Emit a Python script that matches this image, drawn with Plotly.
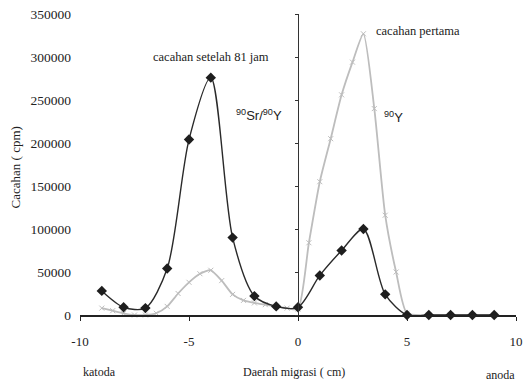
import plotly.graph_objects as go

# Dark series: cacahan setelah 81 jam (90Sr/90Y)
x_after = [-9, -8, -7, -6, -5, -4, -3, -2, -1, 0, 1, 2, 3, 4, 5, 6, 7, 8, 9]
y_after = [28000, 9000, 8000, 54000, 204000, 276000, 90000, 22000, 10000, 9000,
           46000, 75000, 100000, 24000, 0, 0, 0, 0, 0]

# Grey series: cacahan pertama (90Y)
x_first = [-9, -8.5, -8, -7.5, -7, -6.5, -6, -5.5, -5, -4.5, -4, -3.5, -3, -2.5, -2,
           -1.5, -1, -0.5, 0, 0.5, 1, 1.5, 2, 2.5, 3, 3.5, 4, 4.5, 5, 6, 7, 8, 9]
y_first = [8000, 5000, 2000, 0, 0, 2000, 10000, 25000, 38000, 48000, 52000, 40000,
           24000, 17000, 14000, 12000, 10000, 8000, 7000, 84000, 155000, 205000,
           256000, 294000, 327000, 240000, 116000, 50000, 2000, 0, 0, 0, 0]

y_ticks = [0, 50000, 100000, 150000, 200000, 250000, 300000, 350000]
y_ticktext = ["0", "50000", "100000", "150000", "200000", "250000", "300000", "350000"]
x_ticks = [-10, -5, 0, 5, 10]
x_ticktext = ["-10", "-5", "0", "5", "10"]

serif = "Liberation Serif, Times New Roman, DejaVu Serif, serif"
sans = "Liberation Sans, Arial, sans-serif"

fig = go.Figure()
fig.add_trace(go.Scatter(
    x=x_first, y=y_first, mode="lines+markers",
    line=dict(color="#bdbdbd", width=1.8, shape="spline", smoothing=0.6),
    marker=dict(symbol="x-thin-open", size=5, color="#bdbdbd", line=dict(width=1, color="#b0b0b0")),
    cliponaxis=False, showlegend=False))
fig.add_trace(go.Scatter(
    x=x_after, y=y_after, mode="lines+markers",
    line=dict(color="#2a2a2a", width=1.4, shape="spline", smoothing=0.8),
    marker=dict(symbol="diamond", size=8, color="#1e1e1e"),
    cliponaxis=False, showlegend=False))

fig.update_layout(
    width=530, height=385,
    margin=dict(l=80, r=7, t=14, b=70),
    paper_bgcolor="white", plot_bgcolor="white",
    font=dict(family=serif, color="#222", size=12),
    xaxis=dict(range=[-10, 10], tickvals=x_ticks, ticktext=x_ticktext,
               showgrid=False, zeroline=False, showline=True, linecolor="#222", linewidth=1.5,
               ticks="outside", ticklen=4, tickcolor="#222", tickfont=dict(family=serif, size=13),
               ticklabelstandoff=10),
    yaxis=dict(range=[0, 350000], tickvals=y_ticks, ticktext=y_ticktext, showgrid=False,
               zeroline=False, showline=False, ticks="", tickfont=dict(family=serif, size=13.5),
               ticklabelstandoff=8),
    yaxis2=dict(range=[0, 350000], overlaying="y", anchor="free", position=0.5, side="left",
                showticklabels=False, showgrid=False, zeroline=False, showline=True,
                linecolor="#333", linewidth=1.2, tickvals=y_ticks, ticks="outside",
                ticklen=3, tickcolor="#333"),
)
# dummy trace to show yaxis2
fig.add_trace(go.Scatter(x=[None], y=[None], yaxis="y2", showlegend=False))

ann = [
    dict(x=-4.0, y=300000, text="cacahan setelah 81 jam", font=dict(family=serif, size=12.5)),
    dict(x=-1.8, y=233000, text="<sup>90</sup>Sr/<sup>90</sup>Y",
         font=dict(family=sans, size=13)),
    dict(x=5.5, y=330000, text="cacahan pertama", font=dict(family=serif, size=12.5)),
    dict(x=4.4, y=230000, text="<sup>90</sup>Y", font=dict(family=sans, size=13)),
]
for a in ann:
    fig.add_annotation(xref="x", yref="y", showarrow=False, xanchor="center", yanchor="middle", **a)

common = dict(xref="paper", yref="paper", showarrow=False, xanchor="center", yanchor="middle")
fig.add_annotation(x=-0.147, y=0.49, text="Cacahan ( cpm)", textangle=-90,
                   font=dict(family=serif, size=13), **common)
fig.add_annotation(x=0.045, y=-0.19, text="katoda", font=dict(family=serif, size=12), **common)
fig.add_annotation(x=0.49, y=-0.19, text="Daerah migrasi ( cm)",
                   font=dict(family=serif, size=12), **common)
fig.add_annotation(x=0.965, y=-0.20, text="anoda", font=dict(family=serif, size=12), **common)

fig.write_html("out.html")
